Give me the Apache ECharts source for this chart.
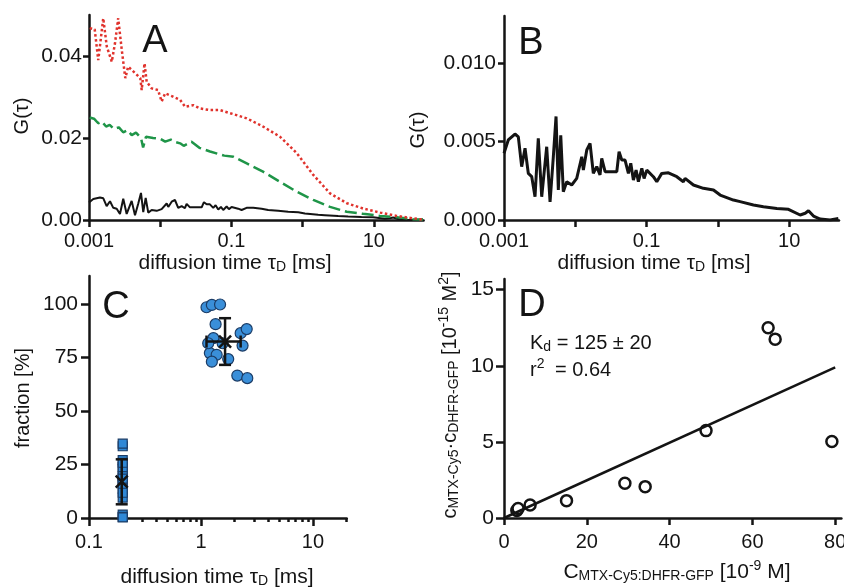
<!DOCTYPE html>
<html>
<head>
<meta charset="utf-8">
<title>FCS</title>
<script src="https://cdn.jsdelivr.net/npm/echarts@6/dist/echarts.min.js"></script>
<style>
	html, body { margin: 0; padding: 0; background: #fff; }
	#main { width: 844px; height: 588px; }
</style>
</head>
<body>
<div id="main"></div>
<script>
// A + B : autocorrelation curves. x as log10(tau / ms)
var blackLogTau = [-3.000,-2.940,-2.846,-2.799,-2.752,-2.705,-2.659,-2.611,-2.565,-2.519,-2.471,-2.401,-2.354,-2.308,-2.270,-2.238,-2.204,-2.168,-2.120,-2.050,-1.980,-1.909,-1.887,-1.839,-1.793,-1.747,-1.699,-1.653,-1.629,-1.582,-1.512,-1.418,-1.386,-1.348,-1.302,-1.255,-1.222,-1.185,-1.147,-1.115,-1.067,-1.035,-0.997,-0.905,-0.857,-0.787,-0.694,-0.576,-0.484,-0.460,-0.343,-0.203,-0.062,0.032,0.218,0.312,0.499,0.639,0.827,0.990,1.154,1.225,1.271,1.341,1.435,1.575,1.690];
var blackG = [0.00425,0.0051,0.00548,0.0053,0.0034,0.00457,0.00297,0.00276,0.00148,0.0052,0.00148,0.00467,0.00115,0.00403,0.0066,0.00191,0.0054,0.0018,0.00244,0.00223,0.00265,0.00403,0.00318,0.00446,0.00488,0.00297,0.0034,0.00287,0.00393,0.00308,0.00308,0.00308,0.00435,0.00382,0.00382,0.00297,0.00361,0.00255,0.00318,0.00244,0.00329,0.00265,0.00318,0.00276,0.00244,0.00297,0.00301,0.00276,0.00244,0.00265,0.00223,0.00202,0.00191,0.00159,0.00127,0.00117,0.00096,0.00085,0.00074,0.00068,0.00032,0.00043,0.00059,0.00025,0.00006,0.0,0.0001];

var redLogTau = [-2.99,-2.92,-2.87,-2.80,-2.75,-2.68,-2.635,-2.59,-2.54,-2.49,-2.45,-2.35,-2.28,-2.26,-2.22,-2.19,-2.12,-2.03,-1.98,-1.93,-1.82,-1.72,-1.65,-1.535,-1.44,-1.30,-1.16,-0.97,-0.785,-0.556,-0.317,-0.083,0.15,0.385,0.62,0.85,1.09,1.32,1.55,1.69];
var redG = [0.0468,0.0465,0.0390,0.0492,0.0423,0.0386,0.0431,0.0492,0.0415,0.0346,0.0374,0.0358,0.0346,0.0317,0.0382,0.0337,0.0321,0.0317,0.0289,0.0309,0.0301,0.0293,0.0276,0.0280,0.0272,0.0268,0.0268,0.0258,0.0248,0.0228,0.0203,0.0163,0.0110,0.0065,0.0041,0.0028,0.0018,0.0010,0.0004,0.0001];

var greenLogTau = [-2.99,-2.93,-2.87,-2.82,-2.76,-2.71,-2.65,-2.58,-2.52,-2.46,-2.40,-2.34,-2.27,-2.24,-2.20,-2.10,-2.00,-1.93,-1.85,-1.78,-1.72,-1.67,-1.56,-1.45,-1.30,-1.10,-0.97,-0.785,-0.556,-0.317,-0.083,0.15,0.385,0.62,0.85,1.09,1.32,1.55,1.69];
var greenG = [0.0250,0.0247,0.0236,0.0240,0.0228,0.0232,0.0222,0.0226,0.0214,0.0219,0.0207,0.0213,0.0200,0.0177,0.0203,0.0200,0.0198,0.0191,0.0196,0.0190,0.0187,0.0181,0.0191,0.0176,0.0167,0.0157,0.0154,0.0138,0.0118,0.0093,0.0069,0.0049,0.0032,0.0020,0.0015,0.0010,0.0007,0.0002,0.0001];

// C : fractions vs diffusion time (ms)
var slowTau = [1.12,1.25,1.48,1.35,1.29,1.20,1.38,1.25,1.56,1.75,2.26,2.56,2.35,2.11,2.59,1.16];
var slowFrac = [98.4,99.5,99.7,90.5,84,77,76.2,73,81.6,74.2,86.3,88.2,80.5,66.5,65.3,81.6];
var fastTau = [0.2,0.2,0.2,0.2,0.2,0.2,0.2,0.2,0.2,0.2,0.2,0.2,0.2,0.2,0.2,0.2];
var fastFrac = [1.6,0.5,0.3,9.5,16,23,23.8,27,18.4,25.8,13.7,11.8,19.5,33.5,34.7,18.4];
var meanTau = [1.64, 0.196];
var meanFrac = [82.4, 17];
var tauLo = [1.12, 0.196];
var tauHi = [2.26, 0.196];
var fracLo = [71.5, 6.4];
var fracHi = [93.3, 27.4];

// D : binding plot
var dConc = [3.1,3.4,6.3,15.1,29.2,34.1,48.8,63.8,65.5,79.2];
var dProd = [0.5,0.62,0.86,1.14,2.28,2.06,5.74,12.5,11.75,5.02];
var fitX = [0, 80];
var fitY = [0, 9.9];

var decadeTicks = [-3, -2, -1, 0, 1];
var decadeLabels = [-3, -1, 1];
var cMajor = [-1, 0, 1];
var cMinorVals = [0.2,0.3,0.4,0.5,0.6,0.7,0.8,0.9,2,3,4,5,6,7,8,9,20];

var FONT = '"Liberation Sans", Arial, Helvetica, sans-serif';
var INK = '#141414';

function pairs(xs, ys, fx) {
	return xs.map(function (x, i) { return [fx ? fx(x) : x, ys[i]]; });
}
function expLabel(v) {
	var t = Math.pow(10, v);
	return v < 0 ? t.toFixed(-Math.round(v)) : String(Math.round(t));
}

function xAx(grid, min, max, ticks, labels, fmt, tickLen, margin) {
	return {
		type: 'value', gridIndex: grid, min: min, max: max, position: 'bottom',
		axisLine: { show: true, onZero: false, lineStyle: { color: INK, width: 2.5 } },
		axisTick: { show: true, customValues: ticks, length: tickLen, lineStyle: { color: INK, width: 2.5 } },
		axisLabel: { show: labels.length > 0, customValues: labels, formatter: fmt, margin: margin,
			color: INK, fontSize: 20, fontFamily: FONT },
		splitLine: { show: false }
	};
}
function yAx(grid, min, max, ticks, fmt, tickLen, margin) {
	return {
		type: 'value', gridIndex: grid, min: min, max: max, position: 'left',
		axisLine: { show: true, onZero: false, lineStyle: { color: INK, width: 2.5 } },
		axisTick: { show: true, customValues: ticks, length: tickLen, lineStyle: { color: INK, width: 2.5 } },
		axisLabel: { customValues: ticks, formatter: fmt, margin: margin,
			color: INK, fontSize: 21, fontFamily: FONT },
		splitLine: { show: false }
	};
}

var cMinorAxis = xAx(2, -1, Math.log10(20), cMinorVals.map(Math.log10), [], null, 4, 8);
cMinorAxis.axisLine.show = false;

function richSet(size) {
	return {
		n: { fontSize: size, fontFamily: FONT, fill: INK },
		sub: { fontSize: 14, fontFamily: FONT, fill: INK, padding: [9, 0, 0, 0] },
		sup: { fontSize: 14, fontFamily: FONT, fill: INK, padding: [0, 0, 11, 0] }
	};
}
function txt(x, y, text, size, opt) {
	opt = opt || {};
	return {
		type: 'text', x: x, y: y, rotation: opt.rot || 0, z: 10,
		style: {
			text: text, fill: INK, font: size + 'px ' + FONT,
			align: opt.align || 'center', verticalAlign: 'middle',
			rich: opt.rich || undefined
		}
	};
}

var myChart = echarts.init(document.getElementById('main'));
myChart.setOption({
	animation: false,
	backgroundColor: '#fff',
	grid: [
		{ left: 89, top: 15, width: 334.6, height: 205, containLabel: false, outerBoundsMode: 'none' },
		{ left: 504, top: 16, width: 335, height: 204, containLabel: false, outerBoundsMode: 'none' },
		{ left: 89, top: 276, width: 257.7, height: 242, containLabel: false, outerBoundsMode: 'none' },
		{ left: 504, top: 279, width: 337.4, height: 239, containLabel: false, outerBoundsMode: 'none' }
	],
	xAxis: [
		xAx(0, -3, Math.log10(50), decadeTicks, decadeLabels, expLabel, 7, 11),
		xAx(1, -3, Math.log10(50), decadeTicks, decadeLabels, expLabel, 7, 11),
		xAx(2, -1, Math.log10(20), cMajor, cMajor, expLabel, 8, 14),
		cMinorAxis,
		xAx(3, 0, 81.5, [0, 20, 40, 60, 80], [0, 20, 40, 60, 80], null, 7, 14)
	],
	yAxis: [
		yAx(0, 0, 0.05, [0, 0.02, 0.04], function (v) { return v.toFixed(2); }, 6, 7),
		yAx(1, 0, 0.013, [0, 0.005, 0.01], function (v) { return v.toFixed(3); }, 6, 8),
		yAx(2, 0, 113, [0, 25, 50, 75, 100], null, 8, 11),
		yAx(3, 0, 15.7, [0, 5, 10, 15], null, 8, 10)
	],
	series: [
		{
			type: 'line', xAxisIndex: 0, yAxisIndex: 0, showSymbol: false,
			data: pairs(blackLogTau, blackG),
			lineStyle: { color: INK, width: 2 }
		},
		{
			type: 'line', xAxisIndex: 0, yAxisIndex: 0, showSymbol: false,
			data: pairs(greenLogTau, greenG),
			lineStyle: { color: '#1f9548', width: 2.5, type: [12, 5] }
		},
		{
			type: 'line', xAxisIndex: 0, yAxisIndex: 0, showSymbol: false,
			data: pairs(redLogTau, redG),
			lineStyle: { color: '#e0322c', width: 2.5, type: [2.5, 2.5] }
		},
		{
			type: 'line', xAxisIndex: 1, yAxisIndex: 1, showSymbol: false,
			data: pairs(blackLogTau, blackG),
			lineStyle: { color: INK, width: 3 }
		},
		{
			type: 'scatter', xAxisIndex: 2, yAxisIndex: 2, symbol: 'rect', symbolSize: 9,
			data: pairs(fastTau, fastFrac, Math.log10),
			itemStyle: { color: '#2f88d6', borderColor: '#1b3c66', borderWidth: 1.2, opacity: 1 }
		},
		{
			type: 'scatter', xAxisIndex: 2, yAxisIndex: 2, symbol: 'circle', symbolSize: 11,
			data: pairs(slowTau, slowFrac, Math.log10),
			itemStyle: { color: '#3a8fd9', borderColor: '#1b3c66', borderWidth: 1.2, opacity: 1 }
		},
		{
			// mean +/- SD for both populations
			type: 'custom', xAxisIndex: 2, yAxisIndex: 2, z: 5,
			data: meanTau.map(function (t, i) {
				return [Math.log10(t), meanFrac[i], Math.log10(tauLo[i]), Math.log10(tauHi[i]), fracLo[i], fracHi[i]];
			}),
			renderItem: function (params, api) {
				var c = api.coord([api.value(0), api.value(1)]);
				var xl = api.coord([api.value(2), api.value(1)]);
				var xh = api.coord([api.value(3), api.value(1)]);
				var yl = api.coord([api.value(0), api.value(4)]);
				var yh = api.coord([api.value(0), api.value(5)]);
				var cap = 6, m = 6;
				var seg = function (x1, y1, x2, y2) {
					return { type: 'line', shape: { x1: x1, y1: y1, x2: x2, y2: y2 },
						style: { stroke: INK, lineWidth: 2.5 } };
				};
				var kids = [
					seg(c[0], yl[1], c[0], yh[1]),
					seg(c[0] - cap, yl[1], c[0] + cap, yl[1]),
					seg(c[0] - cap, yh[1], c[0] + cap, yh[1]),
					seg(c[0] - m, c[1] - m, c[0] + m, c[1] + m),
					seg(c[0] - m, c[1] + m, c[0] + m, c[1] - m)
				];
				if (xh[0] - xl[0] > 2) {
					kids.push(seg(xl[0], c[1], xh[0], c[1]));
					kids.push(seg(xl[0], c[1] - cap, xl[0], c[1] + cap));
					kids.push(seg(xh[0], c[1] - cap, xh[0], c[1] + cap));
				}
				return { type: 'group', children: kids };
			}
		},
		{
			type: 'line', xAxisIndex: 4, yAxisIndex: 3, showSymbol: false,
			data: pairs(fitX, fitY),
			lineStyle: { color: INK, width: 2.5 }
		},
		{
			type: 'scatter', xAxisIndex: 4, yAxisIndex: 3, symbol: 'circle', symbolSize: 11,
			data: pairs(dConc, dProd),
			itemStyle: { color: '#fff', borderColor: INK, borderWidth: 2.5, opacity: 1 }
		}
	],
	graphic: [
		txt(155, 42, 'A', 38),
		txt(531, 44, 'B', 38),
		txt(116, 308, 'C', 38),
		txt(532, 306, 'D', 38),
		txt(22, 116, 'G(τ)', 20, { rot: Math.PI / 2 }),
		txt(418, 130, 'G(τ)', 20, { rot: Math.PI / 2 }),
		txt(23, 398, 'fraction [%]', 20, { rot: Math.PI / 2 }),
		txt(235, 263, '{n|diffusion time τ}{sub|D}{n| [ms]}', 21, { rich: richSet(21) }),
		txt(654, 263, '{n|diffusion time τ}{sub|D}{n| [ms]}', 21, { rich: richSet(21) }),
		txt(217, 577, '{n|diffusion time τ}{sub|D}{n| [ms]}', 21, { rich: richSet(21) }),
		txt(677, 572, '{n|C}{sub|MTX-Cy5:DHFR-GFP}{n| [10}{sup|-9}{n| M]}', 21, { rich: richSet(21) }),
		txt(450, 395, '{n|c}{sub|MTX-Cy5}{n|·c}{sub|DHFR-GFP}{n| [10}{sup|-15}{n| M}{sup|2}{n|]}', 20,
			{ rot: Math.PI / 2, rich: richSet(20) }),
		txt(530, 343, '{n|K}{sub|d}{n| = 125 ± 20}', 20, { align: 'left', rich: richSet(20) }),
		txt(530, 370, '{n|r}{sup|2}', 20, { align: 'left', rich: richSet(20) }),
		txt(555, 370, '= 0.64', 20, { align: 'left' })
	]
});
</script>
</body>
</html>
